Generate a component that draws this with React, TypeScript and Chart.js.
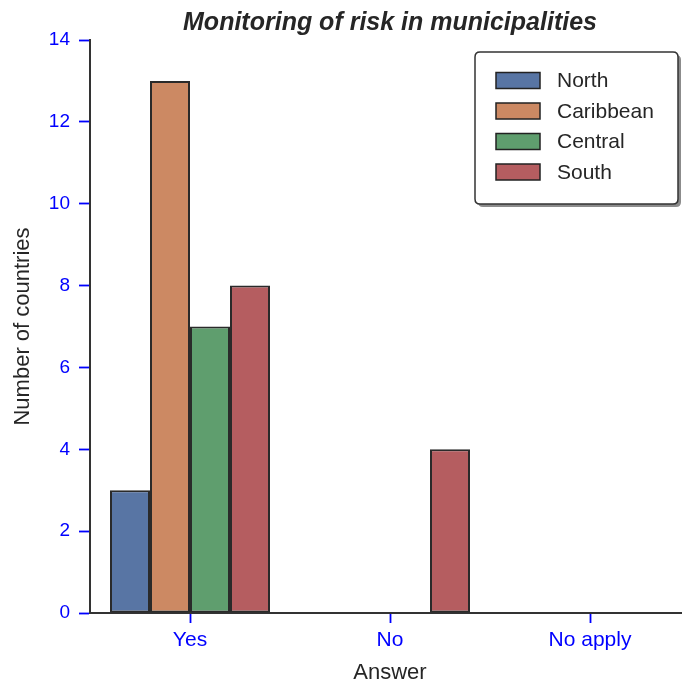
import React, { useEffect, useRef } from "react";
import { Chart, registerables } from "chart.js";

Chart.register(...registerables);

const categories = ["Yes", "No", "No apply"];
const seriesNames = ["North", "Caribbean", "Central", "South"];
const northValues = [3, 0, 0];
const caribbeanValues = [13, 0, 0];
const centralValues = [7, 0, 0];
const southValues = [8, 4, 0];
const seriesColors = ["#5875a4", "#cc8963", "#5f9e6e", "#b55d60"];
const yTicks = [0, 2, 4, 6, 8, 10, 12, 14];
const titleText = "Monitoring of risk in municipalities";
const xTitle = "Answer";
const yTitle = "Number of countries";

const FONT = "'Liberation Sans', Arial, Helvetica, sans-serif";

const titlePlugin = {
  id: "customTitle",
  afterDraw(chart: any) {
    const { ctx, chartArea } = chart;
    ctx.save();
    ctx.font = `italic bold 25px ${FONT}`;
    ctx.fillStyle = "#262626";
    ctx.textAlign = "center";
    ctx.textBaseline = "middle";
    ctx.fillText(titleText, (chartArea.left + chartArea.right) / 2, 23);
    ctx.restore();
  },
};

const legendPlugin = {
  id: "customLegend",
  afterDraw(chart: any) {
    const { ctx } = chart;
    const x = 475, y = 52, w = 203, h = 152, r = 5;
    const rr = (px: number, py: number) => {
      ctx.beginPath();
      ctx.moveTo(px + r, py);
      ctx.lineTo(px + w - r, py);
      ctx.quadraticCurveTo(px + w, py, px + w, py + r);
      ctx.lineTo(px + w, py + h - r);
      ctx.quadraticCurveTo(px + w, py + h, px + w - r, py + h);
      ctx.lineTo(px + r, py + h);
      ctx.quadraticCurveTo(px, py + h, px, py + h - r);
      ctx.lineTo(px, py + r);
      ctx.quadraticCurveTo(px, py, px + r, py);
      ctx.closePath();
    };
    ctx.save();
    rr(x + 3, y + 3);
    ctx.fillStyle = "#8c8c8c";
    ctx.fill();
    rr(x, y);
    ctx.fillStyle = "#ffffff";
    ctx.fill();
    ctx.lineWidth = 1.5;
    ctx.strokeStyle = "#333333";
    ctx.stroke();
    chart.data.datasets.forEach((ds: any, i: number) => {
      const cy = 80.5 + i * 30.5;
      ctx.fillStyle = ds.backgroundColor;
      ctx.fillRect(496, cy - 8, 44, 16);
      ctx.lineWidth = 1.5;
      ctx.strokeStyle = "#222222";
      ctx.strokeRect(496, cy - 8, 44, 16);
      ctx.font = `21px ${FONT}`;
      ctx.fillStyle = "#262626";
      ctx.textAlign = "left";
      ctx.textBaseline = "middle";
      ctx.fillText(ds.label, 557, cy + 1);
    });
    ctx.restore();
  },
};

export default function App() {
  const ref = useRef<HTMLCanvasElement>(null);
  useEffect(() => {
    if (!ref.current) return;
    const values = [northValues, caribbeanValues, centralValues, southValues];
    const chart = new Chart(ref.current, {
      type: "bar",
      data: {
        labels: categories,
        datasets: seriesNames.map((name, i) => ({
          label: name,
          data: values[i],
          backgroundColor: seriesColors[i],
          borderColor: "#2a2a2a",
          borderWidth: 2,
          borderSkipped: false,
          categoryPercentage: 0.8,
          barPercentage: 1.0,
        })),
      },
      options: {
        animation: false,
        responsive: false,
        maintainAspectRatio: false,
        layout: { padding: { top: 40, right: 10, left: 0, bottom: 0 } },
        plugins: {
          legend: { display: false },
          title: { display: false },
          tooltip: { enabled: false },
        },
        scales: {
          x: {
            offset: true,
            afterFit(scale: any) {
              scale.height = 73;
            },
            grid: {
              display: true,
              offset: false,
              drawOnChartArea: false,
              drawTicks: true,
              tickLength: 10,
              tickColor: "#0000ff",
              tickWidth: 1.8,
            },
            border: { display: true, color: "#333333", width: 2 },
            ticks: {
              color: "#0000ff",
              font: { family: FONT, size: 21 },
              padding: 5,
              maxRotation: 0,
            },
            title: {
              display: true,
              text: xTitle,
              color: "#262626",
              font: { family: FONT, size: 22 },
              padding: { top: 0, bottom: 0 },
            },
          },
          y: {
            min: 0,
            max: 14,
            afterFit(scale: any) {
              scale.width = 90;
            },
            afterBuildTicks(scale: any) {
              scale.ticks = yTicks.map((v) => ({ value: v }));
            },
            grid: {
              display: true,
              drawOnChartArea: false,
              drawTicks: true,
              tickLength: 11,
              tickColor: "#0000ff",
              tickWidth: 1.8,
            },
            border: { display: true, color: "#333333", width: 2 },
            ticks: {
              color: "#0000ff",
              font: { family: FONT, size: 19 },
              padding: 9,
              stepSize: 2,
            },
            title: {
              display: true,
              text: yTitle,
              color: "#262626",
              font: { family: FONT, size: 22 },
              padding: { top: 10, bottom: 0 },
            },
          },
        },
      },
      plugins: [titlePlugin, legendPlugin],
    });
    return () => chart.destroy();
  }, []);
  return (
    <div
      style={{
        position: "fixed",
        left: 0,
        top: 0,
        width: 682,
        height: 686,
        overflow: "hidden",
        background: "#ffffff",
      }}
    >
      <canvas ref={ref} width={700} height={686} style={{ display: "block", width: 700, height: 686 }} />
    </div>
  );
}
